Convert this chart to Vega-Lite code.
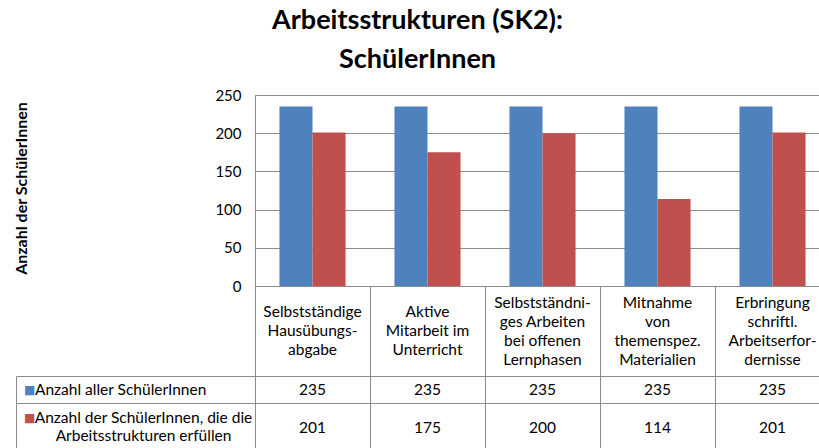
{
  "$schema": "https://vega.github.io/schema/vega-lite/v6.json",
  "autosize": "none",
  "padding": {"left": 16, "top": 95, "right": 803, "bottom": 353},
  "background": "white",
  "title": {
    "text": ["Arbeitsstrukturen (SK2):", "SchülerInnen"],
    "font": "Lato", "fontSize": 27, "fontWeight": "bold", "color": "#000",
    "lineHeight": 39, "anchor": "middle", "dx": -4, "offset": 14
  },
  "datasets": {
    "werte": [
      {"kategorie": "Selbstständige\nHausübungs-\nabgabe", "serie": "Anzahl aller SchülerInnen", "anzahl": 235},
      {"kategorie": "Aktive\nMitarbeit im\nUnterricht", "serie": "Anzahl aller SchülerInnen", "anzahl": 235},
      {"kategorie": "Selbstständni-\nges Arbeiten\nbei offenen\nLernphasen", "serie": "Anzahl aller SchülerInnen", "anzahl": 235},
      {"kategorie": "Mitnahme\nvon\nthemenspez.\nMaterialien", "serie": "Anzahl aller SchülerInnen", "anzahl": 235},
      {"kategorie": "Erbringung\nschriftl.\nArbeitserfor-\ndernisse", "serie": "Anzahl aller SchülerInnen", "anzahl": 235},
      {"kategorie": "Selbstständige\nHausübungs-\nabgabe", "serie": "Anzahl der SchülerInnen, die die\nArbeitsstrukturen erfüllen", "anzahl": 201},
      {"kategorie": "Aktive\nMitarbeit im\nUnterricht", "serie": "Anzahl der SchülerInnen, die die\nArbeitsstrukturen erfüllen", "anzahl": 175},
      {"kategorie": "Selbstständni-\nges Arbeiten\nbei offenen\nLernphasen", "serie": "Anzahl der SchülerInnen, die die\nArbeitsstrukturen erfüllen", "anzahl": 200},
      {"kategorie": "Mitnahme\nvon\nthemenspez.\nMaterialien", "serie": "Anzahl der SchülerInnen, die die\nArbeitsstrukturen erfüllen", "anzahl": 114},
      {"kategorie": "Erbringung\nschriftl.\nArbeitserfor-\ndernisse", "serie": "Anzahl der SchülerInnen, die die\nArbeitsstrukturen erfüllen", "anzahl": 201}
    ],
    "reihen": [
      {"serie": "Anzahl aller SchülerInnen"},
      {"serie": "Anzahl der SchülerInnen, die die\nArbeitsstrukturen erfüllen"}
    ]
  },
  "config": {
    "font": "Lato",
    "view": {"stroke": "#8c8c8c", "strokeWidth": 1},
    "text": {"fontSize": 15.5, "color": "#000", "font": "Lato"},
    "axis": {"gridColor": "#8c8c8c", "gridOpacity": 1}
  },
  "bounds": "flush",
  "spacing": 0,
  "columns": 2,
  "align": "each",
  "concat": [
    {
      "width": 239, "height": 191,
      "data": {"values": [{}]},
      "mark": {"type": "text"},
      "encoding": {},
      "view": {"stroke": null}
    },
    {
      "width": 575, "height": 191,
      "data": {"name": "werte"},
      "mark": {"type": "bar"},
      "encoding": {
        "x": {"field": "kategorie", "type": "nominal", "sort": null, "scale": {"paddingInner": 0, "paddingOuter": 0}, "axis": null},
        "xOffset": {"field": "serie", "type": "nominal", "sort": null, "scale": {"paddingInner": 0, "paddingOuter": 0.74}},
        "y": {
          "field": "anzahl", "type": "quantitative",
          "scale": {"domain": [0, 250]},
          "axis": {
            "values": [0, 50, 100, 150, 200, 250],
            "title": "Anzahl der SchülerInnen",
            "titleFont": "Lato", "titleFontSize": 16, "titleFontWeight": "bold", "titleColor": "#000",
            "titleX": -234, "titleY": 93, "titleAngle": -90, "titleBaseline": "middle", "titleAlign": "center",
            "labelFont": "Lato", "labelFontSize": 15, "labelColor": "#000", "labelPadding": 14,
            "ticks": false, "domain": false
          }
        },
        "color": {
          "field": "serie", "type": "nominal", "sort": null,
          "scale": {"domain": ["Anzahl aller SchülerInnen", "Anzahl der SchülerInnen, die die\nArbeitsstrukturen erfüllen"], "range": ["#4F81BD", "#C0504D"]},
          "legend": null
        }
      }
    },
    {
      "width": 239, "height": 90,
      "data": {"values": [{}]},
      "mark": {"type": "text"},
      "encoding": {},
      "view": {"stroke": null}
    },
    {
      "width": 575, "height": 90,
      "data": {"name": "werte"},
      "transform": [{"filter": "datum.serie == 'Anzahl aller SchülerInnen'"}],
      "encoding": {
        "x": {"field": "kategorie", "type": "nominal", "sort": null, "scale": {"paddingInner": 0, "paddingOuter": 0},
          "axis": {"orient": "top", "grid": true, "tickBand": "extent", "labels": false, "ticks": false, "domain": false, "title": null}},
        "text": {"field": "kategorie"}
      },
      "layer": [
        {
          "transform": [{"filter": "length(split(datum.kategorie, '\\n')) == 3"}],
          "mark": {"type": "text", "lineBreak": "\n", "lineHeight": 19, "baseline": "middle", "align": "center", "dy": -19}
        },
        {
          "transform": [{"filter": "length(split(datum.kategorie, '\\n')) == 4"}],
          "mark": {"type": "text", "lineBreak": "\n", "lineHeight": 19, "baseline": "middle", "align": "center", "dy": -28.5}
        }
      ]
    },
    {
      "width": 239, "height": 27,
      "data": {"name": "reihen"},
      "transform": [{"filter": "datum.serie == 'Anzahl aller SchülerInnen'"}],
      "layer": [
        {
          "mark": {"type": "text", "text": "■", "align": "left", "baseline": "middle", "dx": 8, "fontSize": 12, "font": "DejaVu Sans"},
          "encoding": {
            "x": {"field": "serie", "type": "nominal", "scale": {"type": "point", "align": 0, "padding": 0}, "axis": null},
            "color": {"field": "serie", "type": "nominal", "scale": {"domain": ["Anzahl aller SchülerInnen", "Anzahl der SchülerInnen, die die\nArbeitsstrukturen erfüllen"], "range": ["#4F81BD", "#C0504D"]}, "legend": null}
          }
        },
        {
          "mark": {"type": "text", "align": "left", "baseline": "middle", "dx": 19},
          "encoding": {
            "x": {"field": "serie", "type": "nominal", "scale": {"type": "point", "align": 0, "padding": 0}, "axis": null},
            "text": {"field": "serie"}
          }
        }
      ]
    },
    {
      "width": 575, "height": 27,
      "data": {"name": "werte"},
      "transform": [{"filter": "datum.serie == 'Anzahl aller SchülerInnen'"}],
      "mark": {"type": "text", "baseline": "middle", "align": "center"},
      "encoding": {
        "x": {"field": "kategorie", "type": "nominal", "sort": null, "scale": {"paddingInner": 0, "paddingOuter": 0},
          "axis": {"orient": "top", "grid": true, "tickBand": "extent", "labels": false, "ticks": false, "domain": false, "title": null}},
        "text": {"field": "anzahl", "type": "quantitative"}
      }
    },
    {
      "width": 239, "height": 50,
      "data": {"name": "reihen"},
      "transform": [{"filter": "datum.serie != 'Anzahl aller SchülerInnen'"}],
      "layer": [
        {
          "mark": {"type": "text", "text": "■", "align": "left", "baseline": "middle", "dx": 8, "dy": -10, "fontSize": 12, "font": "DejaVu Sans"},
          "encoding": {
            "x": {"field": "serie", "type": "nominal", "scale": {"type": "point", "align": 0, "padding": 0}, "axis": null},
            "color": {"field": "serie", "type": "nominal", "scale": {"domain": ["Anzahl aller SchülerInnen", "Anzahl der SchülerInnen, die die\nArbeitsstrukturen erfüllen"], "range": ["#4F81BD", "#C0504D"]}, "legend": null}
          }
        },
        {
          "mark": {"type": "text", "align": "center", "baseline": "middle", "dx": 8, "dy": -10, "lineBreak": "\n", "lineHeight": 18},
          "encoding": {
            "text": {"field": "serie"}
          }
        }
      ]
    },
    {
      "width": 575, "height": 50,
      "data": {"name": "werte"},
      "transform": [{"filter": "datum.serie != 'Anzahl aller SchülerInnen'"}],
      "mark": {"type": "text", "baseline": "middle", "align": "center"},
      "encoding": {
        "x": {"field": "kategorie", "type": "nominal", "sort": null, "scale": {"paddingInner": 0, "paddingOuter": 0},
          "axis": {"orient": "top", "grid": true, "tickBand": "extent", "labels": false, "ticks": false, "domain": false, "title": null}},
        "text": {"field": "anzahl", "type": "quantitative"}
      }
    }
  ]
}
